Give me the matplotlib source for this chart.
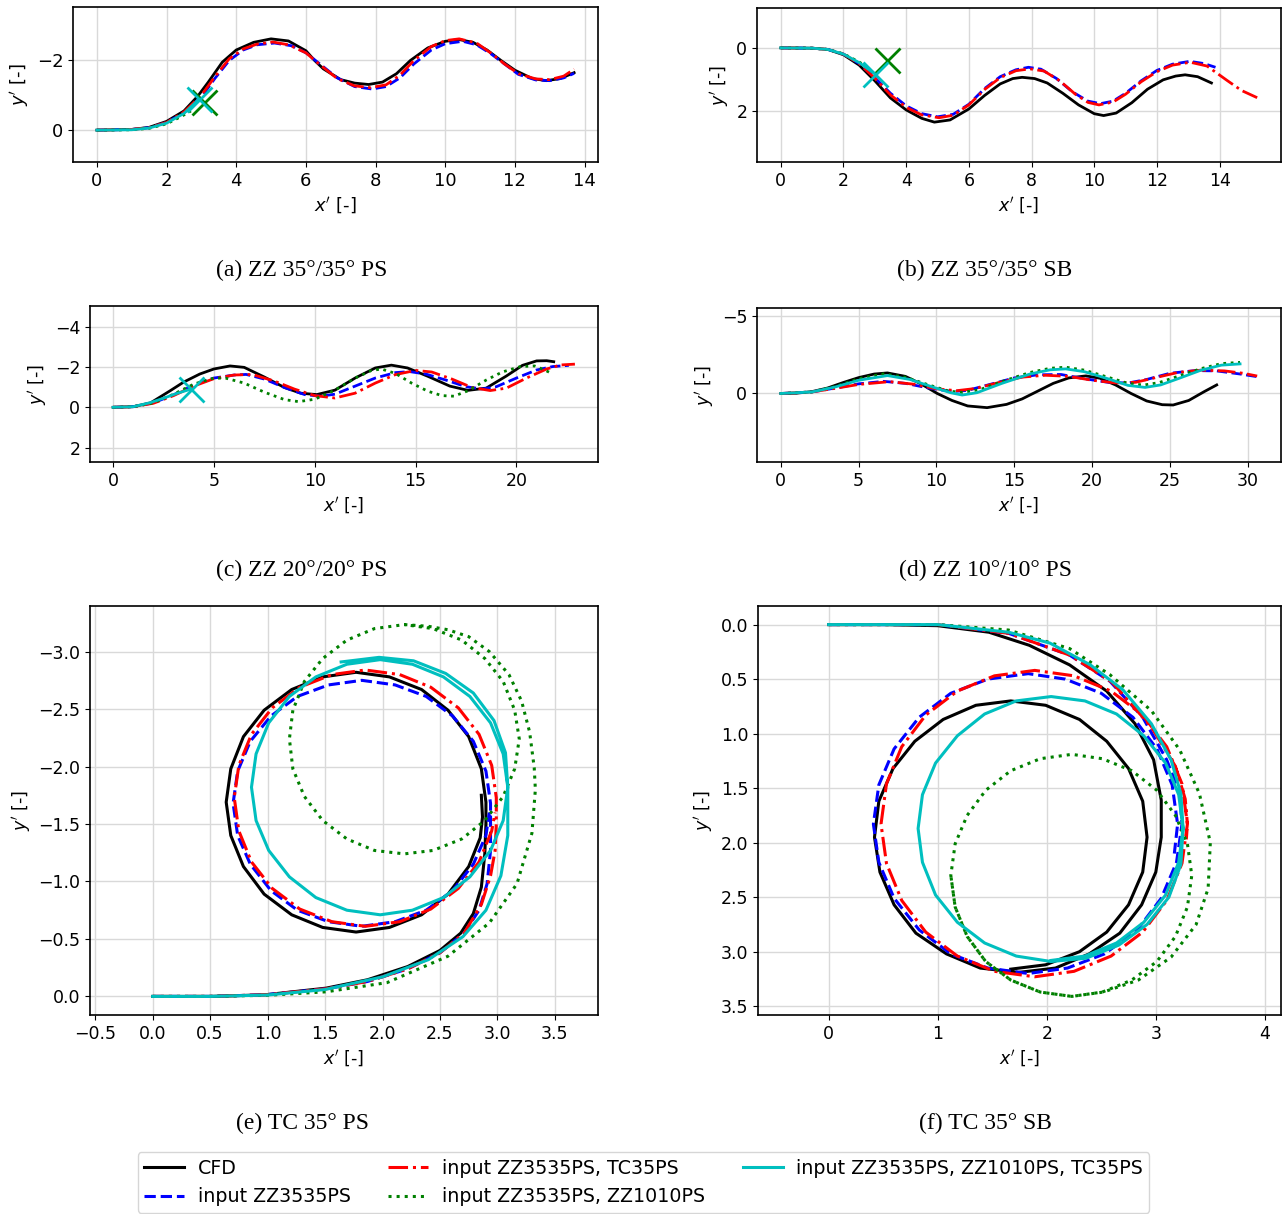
import numpy as np
import matplotlib
matplotlib.use('Agg')
import matplotlib.pyplot as plt
from matplotlib.ticker import MultipleLocator
from matplotlib.lines import Line2D

# ---- trajectories (x', y') per panel ----
# (a) ZZ 35/35 PS
A_CFD = [(0, 0), (1, -0.02), (1.5, -0.08), (2, -0.25), (2.5, -0.55), (2.9, -0.98), (3.2, -1.38),
         (3.6, -1.95), (4, -2.3), (4.5, -2.52), (5, -2.62), (5.5, -2.56), (6, -2.28), (6.25, -2.0),
         (6.5, -1.76), (7, -1.45), (7.4, -1.35), (7.8, -1.31), (8.2, -1.38), (8.6, -1.62), (9, -2.0),
         (9.5, -2.36), (10, -2.55), (10.4, -2.6), (10.8, -2.52), (11.2, -2.3), (11.6, -2.0),
         (12, -1.72), (12.5, -1.48), (12.9, -1.42), (13.3, -1.48), (13.7, -1.65)]
A_ZZ = [(0, 0), (1, -0.02), (1.5, -0.07), (2, -0.22), (2.5, -0.5), (3, -0.95), (3.4, -1.5),
        (3.8, -2.0), (4.2, -2.3), (4.6, -2.45), (5.1, -2.5), (5.6, -2.42), (6, -2.22), (6.4, -1.9),
        (6.9, -1.5), (7.4, -1.25), (7.9, -1.18), (8.3, -1.25), (8.7, -1.5), (9.1, -1.9), (9.6, -2.3),
        (10, -2.48), (10.5, -2.55), (10.9, -2.45), (11.3, -2.2), (11.7, -1.9), (12.1, -1.6),
        (12.6, -1.44), (13, -1.42), (13.4, -1.5), (13.7, -1.63)]
A_ZZ_TC = [(0, 0), (1, -0.02), (1.5, -0.07), (2, -0.22), (2.5, -0.52), (3, -1.0), (3.4, -1.55),
           (3.8, -2.05), (4.2, -2.33), (4.6, -2.47), (5.05, -2.53), (5.5, -2.45), (6, -2.22),
           (6.4, -1.88), (6.9, -1.48), (7.4, -1.27), (7.85, -1.22), (8.3, -1.3), (8.7, -1.58),
           (9.1, -2.0), (9.6, -2.4), (10, -2.57), (10.4, -2.62), (10.9, -2.5), (11.3, -2.22),
           (11.7, -1.9), (12.1, -1.62), (12.6, -1.47), (13, -1.45), (13.4, -1.55), (13.7, -1.75)]
A_ZZ_ZZ = [(0, 0), (1, -0.01), (1.5, -0.05), (2, -0.18), (2.4, -0.38), (2.7, -0.55)]
A_ALL = [(0, 0), (1, -0.01), (1.5, -0.06), (2, -0.2), (2.5, -0.48), (2.93, -0.89)]
A_STOP_ZZ_ZZ = (3.07, -0.80)
A_STOP_ALL = (2.93, -0.89)

# (b) ZZ 35/35 SB
B_CFD = [(0, 0), (1, 0.01), (1.5, 0.05), (2, 0.22), (2.5, 0.55), (3, 1.05), (3.5, 1.6), (4, 1.98),
         (4.5, 2.25), (4.9, 2.37), (5.4, 2.3), (6, 1.95), (6.5, 1.52), (7, 1.15), (7.4, 0.98),
         (7.7, 0.94), (8.1, 0.98), (8.5, 1.12), (9, 1.45), (9.5, 1.82), (10, 2.1), (10.3, 2.16),
         (10.7, 2.08), (11.2, 1.75), (11.7, 1.32), (12.2, 1.02), (12.6, 0.9), (12.9, 0.86),
         (13.3, 0.92), (13.74, 1.12)]
B_ZZ = [(0, 0), (1, 0.01), (1.5, 0.05), (2, 0.2), (2.5, 0.5), (3, 0.95), (3.5, 1.45), (4, 1.85),
        (4.5, 2.1), (5, 2.2), (5.5, 2.12), (6, 1.8), (6.5, 1.3), (7, 0.92), (7.5, 0.7), (7.9, 0.62),
        (8.3, 0.68), (8.8, 0.98), (9.3, 1.4), (9.8, 1.7), (10.2, 1.78), (10.6, 1.7), (11, 1.45),
        (11.5, 1.05), (12, 0.72), (12.5, 0.52), (13.05, 0.43), (13.5, 0.5), (13.87, 0.62)]
B_ZZ_TC = [(0, 0), (1, 0.01), (1.5, 0.05), (2, 0.2), (2.5, 0.5), (3, 0.97), (3.5, 1.5), (4, 1.9),
           (4.5, 2.14), (5.05, 2.23), (5.5, 2.15), (6, 1.82), (6.5, 1.33), (7, 0.95), (7.5, 0.73),
           (7.95, 0.67), (8.4, 0.74), (8.9, 1.05), (9.4, 1.48), (9.8, 1.74), (10.15, 1.82),
           (10.6, 1.73), (11, 1.48), (11.5, 1.08), (12, 0.76), (12.5, 0.55), (13.07, 0.46),
           (13.6, 0.58), (14.24, 1.04), (14.7, 1.36), (15.2, 1.59)]
B_ZZ_ZZ = [(0, 0), (1, 0.01), (1.5, 0.05), (2, 0.19), (2.5, 0.45), (2.84, 0.67)]
B_ALL = [(0, 0), (1, 0.01), (1.5, 0.05), (2, 0.2), (2.5, 0.47), (3.0, 0.83)]
B_STOP_ZZ_ZZ = (3.38, 0.40)
B_STOP_ALL = (3.0, 0.83)

# (c) ZZ 20/20 PS
C_CFD = [(0, 0), (1, -0.03), (1.86, -0.22), (2.83, -0.82), (3.5, -1.25), (4.3, -1.65), (5, -1.9),
         (5.8, -2.05), (6.5, -1.98), (7.5, -1.5), (8.5, -0.98), (9.3, -0.7), (10.1, -0.63),
         (11, -0.85), (12, -1.45), (13, -1.95), (13.8, -2.09), (14.6, -1.95), (15.6, -1.54),
         (16.7, -1.05), (17.6, -0.84), (18.5, -0.95), (19.5, -1.55), (20.3, -2.08), (21, -2.3),
         (21.5, -2.31), (21.85, -2.26)]
C_ZZ = [(0, 0), (1, -0.03), (2, -0.22), (3, -0.62), (4, -1.1), (5, -1.45), (6, -1.6), (6.6, -1.63),
        (7.5, -1.4), (8.5, -0.98), (9.5, -0.63), (10.3, -0.55), (11, -0.65), (12, -1.05),
        (13, -1.45), (14, -1.72), (14.7, -1.77), (15.5, -1.65), (16.5, -1.35), (17.5, -1.02),
        (18.3, -0.91), (19, -1.02), (20, -1.45), (21, -1.85), (21.8, -2.02), (22.6, -2.08)]
C_ZZ_TC = [(0, 0), (1, -0.03), (2, -0.2), (3, -0.58), (4, -1.05), (5, -1.42), (6, -1.6),
           (6.9, -1.63), (8, -1.3), (9, -0.9), (10, -0.58), (11, -0.46), (12, -0.7), (13, -1.2),
           (14, -1.62), (15, -1.83), (15.8, -1.75), (16.8, -1.4), (17.8, -0.98), (18.7, -0.83),
           (19.5, -0.95), (20.5, -1.45), (21.5, -1.9), (22.2, -2.1), (22.9, -2.14)]
C_ZZ_ZZ = [(0, 0), (1, -0.03), (2, -0.22), (3, -0.65), (4, -1.15), (5, -1.45), (5.6, -1.44),
           (6.5, -1.2), (7.5, -0.75), (8.5, -0.38), (9.2, -0.28), (10, -0.4), (11, -0.85),
           (12, -1.45), (12.8, -1.82), (13.3, -1.9), (14, -1.68), (14.8, -1.2), (15.6, -0.8),
           (16.3, -0.58), (16.9, -0.55), (17.6, -0.82), (18.5, -1.35), (19.3, -1.75), (20.2, -2.02),
           (20.9, -2.05), (21.4, -1.85), (21.7, -1.7)]
C_ALL = [(0, 0), (1, -0.03), (1.84, -0.23), (2.5, -0.45), (3.2, -0.7), (3.86, -0.9)]
C_STOP_ALL = (3.86, -0.9)

# (d) ZZ 10/10 PS
D_CFD = [(0, 0), (1, -0.02), (2, -0.12), (3, -0.35), (4, -0.7), (5, -1.02), (6, -1.25), (6.85, -1.32),
         (8, -1.1), (9, -0.62), (10.05, 0.0), (11, 0.45), (12, 0.8), (13.25, 0.91), (14.5, 0.7),
         (15.5, 0.35), (16.5, -0.15), (17.5, -0.65), (18.5, -1.0), (19.6, -1.13), (20.5, -0.98),
         (21.5, -0.55), (22.5, 0.0), (23.5, 0.48), (24.5, 0.72), (25.2, 0.74), (26.2, 0.45),
         (27.2, -0.12), (28.0, -0.55)]
D_ZZ = [(0, 0), (2, -0.1), (3.5, -0.35), (5, -0.62), (6.6, -0.78), (8, -0.65), (9.5, -0.35),
        (11, -0.12), (12, -0.2), (13.5, -0.6), (15, -1.0), (16.5, -1.2), (18, -1.22), (19.5, -0.95),
        (21, -0.72), (22.3, -0.67), (23.5, -0.9), (25, -1.3), (26.6, -1.47), (28, -1.45),
        (29.5, -1.25), (30.6, -1.08)]
D_ZZ_TC = [(0, 0), (2, -0.1), (3.5, -0.33), (5, -0.58), (7, -0.76), (8.5, -0.6), (10, -0.3),
           (11.3, -0.18), (12.5, -0.32), (14, -0.7), (15.5, -1.05), (17, -1.17), (18.5, -1.1),
           (20, -0.85), (21.5, -0.68), (22.8, -0.72), (24, -1.0), (25.5, -1.35), (27, -1.5),
           (28.5, -1.45), (29.7, -1.3), (30.6, -1.12)]
D_ZZ_ZZ = [(0, 0), (2, -0.1), (3.5, -0.45), (5, -0.95), (6.6, -1.26), (8, -1.05), (9.5, -0.55),
           (10.8, -0.15), (11.65, -0.07), (12.8, -0.25), (14.3, -0.8), (16, -1.35), (17.3, -1.62),
           (18.3, -1.69), (19.5, -1.5), (21, -1.05), (22.3, -0.65), (23.3, -0.54), (24.3, -0.7),
           (25.5, -1.1), (27, -1.6), (28.3, -1.92), (29.5, -2.0)]
D_ALL = [(0, 0), (2, -0.1), (3.5, -0.42), (5, -0.85), (6.85, -1.15), (8.3, -0.9), (9.8, -0.4),
         (10.9, -0.05), (11.65, 0.1), (12.6, -0.05), (14.2, -0.65), (16, -1.25), (17.3, -1.52),
         (18.3, -1.58), (19.5, -1.4), (21, -0.95), (22.3, -0.52), (23.4, -0.39), (24.4, -0.55),
         (25.6, -0.98), (27, -1.5), (28.3, -1.82), (29.5, -1.9)]

# (e) TC 35 PS
E_CFD = [(0, 0), (0.5, 0.0), (0.98, -0.014), (1.51, -0.072), (1.87, -0.145), (2.22, -0.26),
         (2.5, -0.40), (2.68, -0.55), (2.79, -0.72), (2.86, -0.95), (2.89, -1.24), (2.9, -1.5),
         (2.9, -1.69), (2.86, -1.98), (2.75, -2.26), (2.57, -2.49), (2.34, -2.67), (2.06, -2.78),
         (1.77, -2.82), (1.48, -2.78), (1.21, -2.67), (0.97, -2.49), (0.79, -2.26), (0.68, -1.98),
         (0.64, -1.69), (0.68, -1.40), (0.79, -1.13), (0.97, -0.89), (1.21, -0.71), (1.48, -0.6),
         (1.77, -0.56), (2.06, -0.6), (2.34, -0.71), (2.57, -0.89), (2.75, -1.13), (2.85, -1.38),
         (2.87, -1.56), (2.86, -1.75)]
E_ZZ = [(0, 0), (0.5, 0.0), (0.98, -0.014), (1.51, -0.066), (1.87, -0.13), (2.22, -0.24),
        (2.5, -0.38), (2.71, -0.55), (2.84, -0.75), (2.91, -0.98), (2.94, -1.27), (2.94, -1.5),
        (2.94, -1.68), (2.90, -1.96), (2.79, -2.22), (2.61, -2.44), (2.38, -2.61), (2.11, -2.71),
        (1.82, -2.75), (1.53, -2.71), (1.26, -2.61), (1.03, -2.44), (0.85, -2.22), (0.74, -1.96),
        (0.70, -1.68), (0.74, -1.40), (0.85, -1.15), (1.03, -0.92), (1.26, -0.75), (1.53, -0.65),
        (1.82, -0.61), (2.11, -0.65), (2.38, -0.75), (2.61, -0.92), (2.79, -1.15), (2.90, -1.40),
        (2.93, -1.6)]
E_ZZ_TC = [(0, 0), (0.5, 0.0), (0.98, -0.014), (1.51, -0.066), (1.87, -0.13), (2.22, -0.24),
           (2.5, -0.38), (2.71, -0.55), (2.86, -0.8), (2.94, -1.05), (2.98, -1.27), (2.99, -1.5),
           (2.99, -1.73), (2.95, -2.01), (2.84, -2.28), (2.66, -2.51), (2.42, -2.69), (2.15, -2.80),
           (1.85, -2.84), (1.56, -2.80), (1.28, -2.69), (1.04, -2.51), (0.86, -2.28), (0.75, -2.01),
           (0.71, -1.73), (0.75, -1.44), (0.86, -1.17), (1.04, -0.94), (1.28, -0.76), (1.56, -0.65),
           (1.85, -0.61), (2.15, -0.65), (2.42, -0.76), (2.66, -0.94), (2.84, -1.17), (2.95, -1.44),
           (2.98, -1.6)]
E_ZZ_ZZ = [(0, 0), (0.5, 0.0), (1.0, -0.01), (1.51, -0.04), (2.04, -0.12), (2.57, -0.35),
           (2.93, -0.64), (3.17, -0.98), (3.3, -1.42), (3.33, -1.8), (3.32, -1.99), (3.28, -2.3),
           (3.21, -2.57), (3.1, -2.8), (2.93, -3.0), (2.75, -3.13), (2.57, -3.19), (2.4, -3.22),
           (2.19, -3.235), (1.93, -3.2), (1.69, -3.1), (1.48, -2.94), (1.32, -2.74), (1.22, -2.49),
           (1.19, -2.24), (1.22, -1.98), (1.32, -1.74), (1.48, -1.53), (1.69, -1.37), (1.93, -1.27),
           (2.19, -1.24), (2.44, -1.27), (2.69, -1.37), (2.89, -1.53), (3.05, -1.74), (3.15, -1.98),
           (3.19, -2.24), (3.15, -2.49), (3.05, -2.74), (2.89, -2.94), (2.69, -3.1), (2.44, -3.2),
           (2.19, -3.235)]
E_ALL = [(0, 0), (0.5, 0.0), (1.0, -0.012), (1.5, -0.06), (2.0, -0.17), (2.4, -0.32), (2.7, -0.52),
         (2.9, -0.75), (3.03, -1.05), (3.09, -1.4), (3.09, -1.82), (3.05, -2.11), (2.94, -2.38),
         (2.76, -2.61), (2.53, -2.78), (2.26, -2.89), (1.98, -2.93), (1.69, -2.89), (1.42, -2.78),
         (1.19, -2.61), (1.01, -2.38), (0.90, -2.11), (0.86, -1.82), (0.90, -1.53), (1.01, -1.27),
         (1.19, -1.04), (1.42, -0.86), (1.69, -0.75), (1.98, -0.71), (2.26, -0.75), (2.53, -0.86),
         (2.76, -1.04), (2.94, -1.27), (3.05, -1.53), (3.09, -1.82), (3.07, -2.12), (2.97, -2.40),
         (2.79, -2.64), (2.55, -2.81), (2.27, -2.92), (1.97, -2.95), (1.64, -2.91)]

# (f) TC 35 SB
F_CFD = [(0, 0), (0.5, 0.0), (1.0, 0.01), (1.47, 0.07), (1.84, 0.19), (2.21, 0.37), (2.55, 0.61),
         (2.81, 0.91), (2.98, 1.24), (3.05, 1.61), (3.05, 1.95), (3.0, 2.27), (2.87, 2.57),
         (2.67, 2.83), (2.39, 3.02), (2.08, 3.15), (1.74, 3.19), (1.39, 3.15), (1.08, 3.02),
         (0.8, 2.83), (0.6, 2.57), (0.47, 2.27), (0.42, 1.95), (0.46, 1.62), (0.59, 1.32),
         (0.79, 1.07), (1.05, 0.87), (1.35, 0.74), (1.67, 0.70), (1.99, 0.74), (2.3, 0.87),
         (2.55, 1.07), (2.75, 1.32), (2.88, 1.62), (2.92, 1.95), (2.88, 2.27), (2.75, 2.57),
         (2.55, 2.82), (2.3, 3.0), (1.99, 3.12), (1.67, 3.16)]
F_ZZ = [(0, 0), (0.5, 0.0), (1.0, 0.0), (1.65, 0.08), (2.21, 0.28), (2.58, 0.52), (2.88, 0.85),
        (3.1, 1.24), (3.22, 1.55), (3.24, 1.83), (3.19, 2.18), (3.05, 2.51), (2.83, 2.8),
        (2.53, 3.02), (2.19, 3.15), (1.83, 3.2), (1.46, 3.15), (1.12, 3.02), (0.83, 2.8),
        (0.6, 2.51), (0.46, 2.18), (0.41, 1.83), (0.46, 1.47), (0.6, 1.14), (0.83, 0.85),
        (1.12, 0.63), (1.46, 0.5), (1.83, 0.45), (2.17, 0.5), (2.5, 0.63), (2.79, 0.85),
        (3.01, 1.14), (3.15, 1.47), (3.2, 1.83), (3.17, 2.1)]
F_ZZ_TC = [(0, 0), (0.5, 0.0), (1.0, 0.0), (1.65, 0.08), (2.21, 0.28), (2.6, 0.53), (2.96, 0.94),
           (3.18, 1.3), (3.27, 1.6), (3.29, 1.83), (3.24, 2.19), (3.1, 2.53), (2.88, 2.82),
           (2.59, 3.04), (2.25, 3.18), (1.89, 3.23), (1.52, 3.18), (1.18, 3.04), (0.89, 2.82),
           (0.67, 2.53), (0.53, 2.19), (0.48, 1.83), (0.53, 1.46), (0.67, 1.12), (0.89, 0.83),
           (1.18, 0.61), (1.52, 0.47), (1.89, 0.42), (2.25, 0.47), (2.59, 0.61), (2.88, 0.83),
           (3.1, 1.12), (3.24, 1.46), (3.29, 1.83), (3.28, 1.97)]
F_ZZ_ZZ = [(0, 0), (0.5, 0.0), (1, 0.0), (1.65, 0.05), (2.21, 0.22), (2.58, 0.46), (2.96, 0.79),
           (3.22, 1.15), (3.4, 1.55), (3.5, 2.0), (3.48, 2.42), (3.37, 2.75), (3.14, 3.05),
           (2.84, 3.26), (2.52, 3.37), (2.23, 3.41), (1.94, 3.37), (1.67, 3.26), (1.44, 3.09),
           (1.27, 2.86), (1.16, 2.59), (1.12, 2.3), (1.16, 2.01), (1.27, 1.75), (1.44, 1.52),
           (1.67, 1.34), (1.94, 1.23), (2.23, 1.19), (2.51, 1.23), (2.78, 1.34), (3.01, 1.52),
           (3.18, 1.75), (3.29, 2.01), (3.33, 2.3), (3.29, 2.59), (3.18, 2.86), (3.01, 3.09),
           (2.78, 3.26), (2.51, 3.37), (2.23, 3.41), (1.94, 3.37), (1.67, 3.26), (1.44, 3.09),
           (1.27, 2.86), (1.16, 2.59), (1.12, 2.3)]
F_ALL = [(0, 0), (0.5, 0.0), (1, 0.0), (1.65, 0.07), (2.03, 0.17), (2.4, 0.37), (2.7, 0.6),
         (2.96, 0.91), (3.14, 1.24), (3.23, 1.55), (3.25, 1.87), (3.23, 2.2), (3.12, 2.5),
         (2.92, 2.75), (2.66, 2.94), (2.36, 3.06), (2.04, 3.09), (1.72, 3.04), (1.43, 2.92),
         (1.18, 2.73), (0.98, 2.48), (0.86, 2.18), (0.82, 1.87), (0.86, 1.56), (0.98, 1.27),
         (1.18, 1.02), (1.43, 0.82), (1.72, 0.7), (2.04, 0.66), (2.35, 0.7), (2.64, 0.82),
         (2.89, 1.02), (3.09, 1.27), (3.21, 1.56), (3.25, 1.87), (3.21, 2.18), (3.09, 2.48),
         (2.89, 2.73), (2.64, 2.92), (2.35, 3.04), (2.04, 3.08)]

LABELS = ['CFD', 'input ZZ3535PS', 'input ZZ3535PS, TC35PS',
          'input ZZ3535PS, ZZ1010PS', 'input ZZ3535PS, ZZ1010PS, TC35PS']
STYLES = [dict(color='k', ls='-'), dict(color='b', ls='--'), dict(color='r', ls='-.'),
          dict(color='g', ls=':'), dict(color='c', ls='-')]
CAPTIONS = ['(a) ZZ 35°/35° PS', '(b) ZZ 35°/35° SB', '(c) ZZ 20°/20° PS',
            '(d) ZZ 10°/10° PS', '(e) TC 35° PS', '(f) TC 35° SB']

W, H = 1285, 1214
fig = plt.figure(figsize=(W / 100, H / 100), dpi=100)


def px_axes(left, top, right, bottom):
    return fig.add_axes([left / W, 1 - bottom / H, (right - left) / W, (bottom - top) / H])


def panel(box, series, stops, xstep, ystep, lw, fs, cap_xy, caption):
    ax = px_axes(*box)
    for data, st in zip(series, STYLES):
        xy = np.array(data)
        ax.plot(xy[:, 0], xy[:, 1], lw=lw, **st)
    for pt, col in stops:
        ax.plot(pt[0], pt[1], 'x', color=col, ms=18, mew=2)
    ax.set_aspect('equal', adjustable='datalim')
    ax.invert_yaxis()
    ax.xaxis.set_major_locator(MultipleLocator(xstep))
    ax.yaxis.set_major_locator(MultipleLocator(ystep))
    ax.grid(True, color='0.85', lw=1)
    ax.set_axisbelow(True)
    ax.tick_params(labelsize=fs)
    ax.set_xlabel("$x'$ [-]", fontsize=fs)
    ax.set_ylabel("$y'$ [-]", fontsize=fs)
    for s in ax.spines.values():
        s.set_linewidth(1.2)
    fig.text(cap_xy[0] / W, 1 - cap_xy[1] / H, caption, ha='center', va='center',
             family='Liberation Serif', fontsize=17)
    return ax


panel((73, 7, 598, 162), [A_CFD, A_ZZ, A_ZZ_TC, A_ZZ_ZZ, A_ALL],
      [(A_STOP_ZZ_ZZ, 'g'), (A_STOP_ALL, 'c')], 2, 2, 2, 13, (302, 270), CAPTIONS[0])
panel((757, 8, 1281, 162), [B_CFD, B_ZZ, B_ZZ_TC, B_ZZ_ZZ, B_ALL],
      [(B_STOP_ZZ_ZZ, 'g'), (B_STOP_ALL, 'c')], 2, 2, 2, 12.5, (985, 270), CAPTIONS[1])
panel((90, 306, 598, 462), [C_CFD, C_ZZ, C_ZZ_TC, C_ZZ_ZZ, C_ALL],
      [(C_STOP_ALL, 'c')], 5, 2, 2, 12.5, (302, 570), CAPTIONS[2])
panel((757, 308, 1281, 462), [D_CFD, D_ZZ, D_ZZ_TC, D_ZZ_ZZ, D_ALL],
      [], 5, 5, 2, 12.5, (985, 570), CAPTIONS[3])
panel((90, 606, 598, 1015), [E_CFD, E_ZZ, E_ZZ_TC, E_ZZ_ZZ, E_ALL],
      [], 0.5, 0.5, 2.2, 12.5, (302, 1123), CAPTIONS[4])
panel((758, 606, 1281, 1015), [F_CFD, F_ZZ, F_ZZ_TC, F_ZZ_ZZ, F_ALL],
      [], 1, 0.5, 2.2, 12.5, (985, 1123), CAPTIONS[5])

handles = [Line2D([], [], lw=2.2, **st) for st in STYLES]
fig.legend(handles, LABELS, ncol=3, loc='upper center', bbox_to_anchor=(0.5008, 1 - 1152 / H),
           fontsize=13.7, handlelength=2.1, handletextpad=0.7, borderpad=0.35,
           borderaxespad=0, frameon=True)

fig.savefig('out.png', dpi=100)
